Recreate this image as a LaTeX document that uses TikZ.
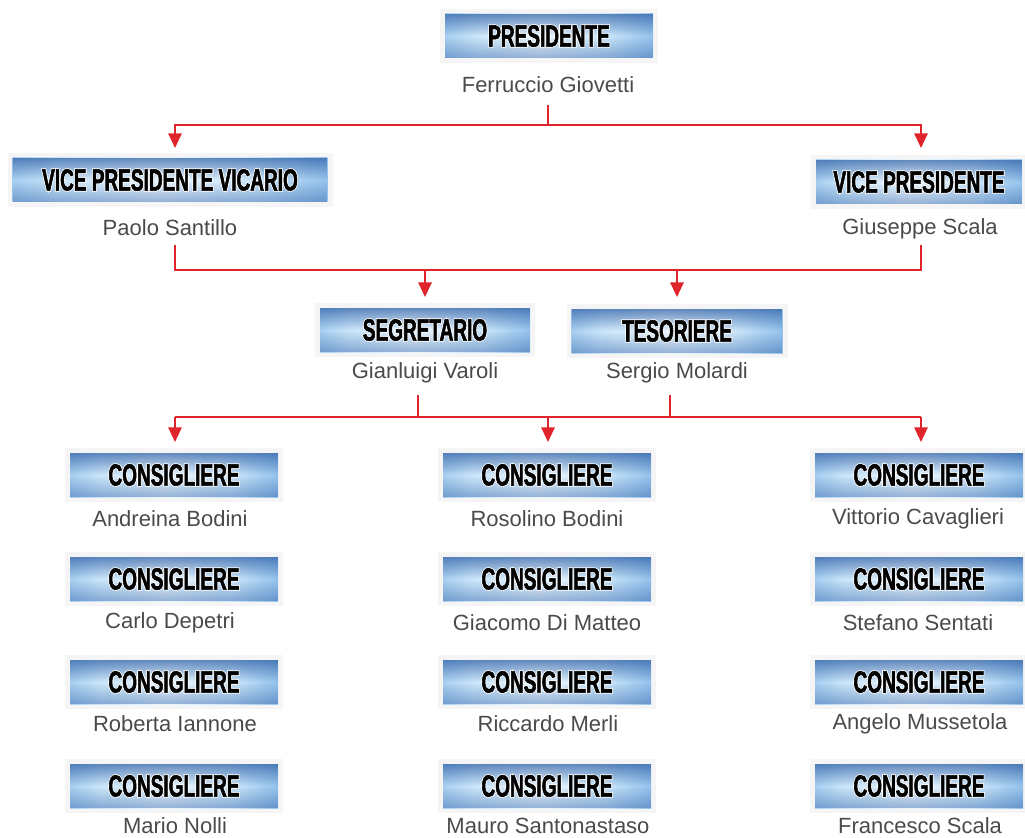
\documentclass[tikz,border=0pt]{standalone}
\usepackage{fontspec}
\setmainfont{Liberation Sans}
\newfontfamily\titlefont[FakeStretch=0.62,FakeBold=1.8]{Liberation Sans}
\newfontfamily\titlehalo[FakeStretch=0.62,FakeBold=7]{Liberation Sans}
\usetikzlibrary{arrows.meta,calc,fadings}
\definecolor{bA}{HTML}{2A5CA3}
\definecolor{bB}{HTML}{3F84D2}
\definecolor{bE}{HTML}{7DB3E6}
\definecolor{bC}{HTML}{CBE6FA}
\definecolor{bD}{HTML}{ECF7FE}
\definecolor{linered}{HTML}{E0242B}
\definecolor{namegray}{HTML}{4A4A4A}
\pgfdeclarehorizontalshading{boxshade}{100bp}{color(0bp)=(bA); color(4bp)=(bB); color(16bp)=(bE); color(32bp)=(bC); color(48bp)=(bD); color(64bp)=(bC); color(80bp)=(bE); color(93bp)=(bB); color(100bp)=(bA)}
\tikzfading[name=edgefade, top color=transparent!30, bottom color=transparent!55, middle color=transparent!100]
\newcommand{\haloed}[1]{\rlap{\color{white}\titlehalo\bfseries #1}#1}
\tikzset{
  rolebox/.style={minimum height=33pt, inner sep=0pt, draw=none, shading=boxshade,
    font=\titlefont\bfseries\fontsize{23}{24}\selectfont, text=black,
    path picture={\fill[bA, path fading=edgefade]
      (path picture bounding box.south west) rectangle (path picture bounding box.north east);}},
  halo/.style={fill=black!4, draw=none},
  person/.style={font=\fontsize{16.5}{18}\selectfont, text=namegray, inner sep=0pt},
  conn/.style={draw=linered, line width=1.5pt},
  arr/.style={conn, -{Triangle[width=10pt,length=11pt]}},
}
\newcommand{\rolenode}[5]{% name, x, y, width(px), text
  \fill[halo] ($(#2,#3)+(-#4/2-5,-27)$) rectangle ($(#2,#3)+(#4/2+5,27)$);
  \node[rolebox, minimum width=#4*0.75pt] (#1) at (#2,#3) {\haloed{#5}};}
\begin{document}
\begin{tikzpicture}[x=0.75pt,y=-0.75pt]
\useasboundingbox (0,0) rectangle (1025,838);
% top
\rolenode{pres}{549}{36}{208}{PRESIDENTE}
\node[person] (presn) at (548,85) {Ferruccio Giovetti};
\rolenode{vpv}{170}{180}{315}{VICE PRESIDENTE VICARIO}
\node[person] (vpvn) at (170,228) {Paolo Santillo};
\rolenode{vp}{919}{182}{206}{VICE PRESIDENTE}
\node[person] (vpn) at (920,229) {Giuseppe Scala};
\rolenode{seg}{425}{330}{210}{SEGRETARIO}
\node[person] (segn) at (425,373) {Gianluigi Varoli};
\rolenode{tes}{677}{331}{211}{TESORIERE}
\node[person] (tesn) at (677,373) {Sergio Molardi};
% consiglieri
\rolenode{c11}{174}{475}{208}{CONSIGLIERE}
\node[person] (n11) at (170,519) {Andreina Bodini};
\rolenode{c12}{174}{579}{208}{CONSIGLIERE}
\node[person] (n12) at (170,623) {Carlo Depetri};
\rolenode{c13}{174}{682}{208}{CONSIGLIERE}
\node[person] (n13) at (175,724) {Roberta Iannone};
\rolenode{c14}{174}{786}{208}{CONSIGLIERE}
\node[person] (n14) at (175,826) {Mario Nolli};
\rolenode{c21}{547}{475}{208}{CONSIGLIERE}
\node[person] (n21) at (547,519) {Rosolino Bodini};
\rolenode{c22}{547}{579}{208}{CONSIGLIERE}
\node[person] (n22) at (547,623) {Giacomo Di Matteo};
\rolenode{c23}{547}{682}{208}{CONSIGLIERE}
\node[person] (n23) at (548,724) {Riccardo Merli};
\rolenode{c24}{547}{786}{208}{CONSIGLIERE}
\node[person] (n24) at (548,826) {Mauro Santonastaso};
\rolenode{c31}{919}{475}{208}{CONSIGLIERE}
\node[person] (n31) at (918,519) {Vittorio Cavaglieri};
\rolenode{c32}{919}{579}{208}{CONSIGLIERE}
\node[person] (n32) at (918,623) {Stefano Sentati};
\rolenode{c33}{919}{682}{208}{CONSIGLIERE}
\node[person] (n33) at (920,724) {Angelo Mussetola};
\rolenode{c34}{919}{786}{208}{CONSIGLIERE}
\node[person] (n34) at (920,826) {Francesco Scala};
% connector points
\coordinate (p0) at (548,105);
\coordinate (j1) at (548,125);
\coordinate (a1l) at (175,148);
\coordinate (a1r) at (921,148);
\coordinate (q0l) at (175,245);
\coordinate (q0r) at (921,245);
\coordinate (j2l) at (175,270);
\coordinate (j2r) at (921,270);
\coordinate (a2a) at (425,297);
\coordinate (a2b) at (677,297);
\coordinate (r0l) at (418,395);
\coordinate (r0r) at (670,395);
\coordinate (j3l) at (175,417);
\coordinate (j3r) at (921,417);
\coordinate (a3a) at (175,442);
\coordinate (a3b) at (548,442);
\coordinate (a3c) at (921,442);
% connectors
\draw[conn] (p0) -- (j1);
\draw[arr] (j1) -| (a1l);
\draw[arr] (j1) -| (a1r);
\draw[conn] (q0l) -- (j2l) -- (j2r) -- (q0r);
\draw[arr] (a2a |- j2l) -- (a2a);
\draw[arr] (a2b |- j2l) -- (a2b);
\draw[conn] (r0l) -- (r0l |- j3l);
\draw[conn] (r0r) -- (r0r |- j3l);
\draw[conn] (j3l) -- (j3r);
\draw[arr] (j3l) -- (a3a);
\draw[arr] (a3b |- j3l) -- (a3b);
\draw[arr] (j3r) -- (a3c);
\end{tikzpicture}
\end{document}
